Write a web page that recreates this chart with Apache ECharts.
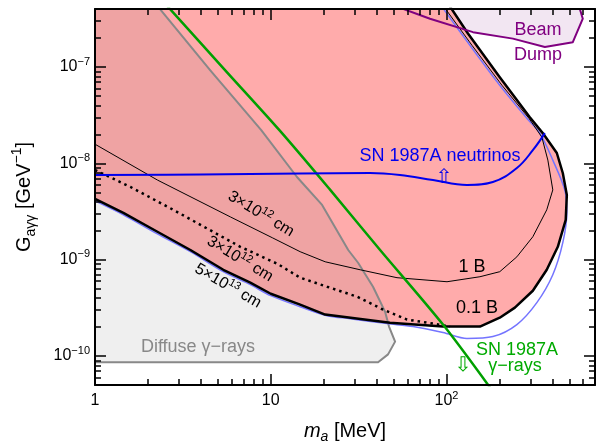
<!DOCTYPE html>
<html><head><meta charset="utf-8">
<script src="https://cdn.jsdelivr.net/npm/echarts@6/dist/echarts.min.js"></script>
<style>html,body{margin:0;padding:0;background:#fff}#c{width:600px;height:441px}</style>
</head><body><div id="c"></div>
<script>
// ---------- tick values ----------
const xMajor = [1, 10, 100];
const xMinor = [2,3,4,5,6,7,8,9,20,30,40,50,60,70,80,90,200,300,400,500,600];
const yMajor = [1e-10, 1e-9, 1e-8, 1e-7];
const yMinor = [6e-11,7e-11,8e-11,9e-11,2e-10,3e-10,4e-10,5e-10,6e-10,7e-10,8e-10,9e-10,
  2e-9,3e-9,4e-9,5e-9,6e-9,7e-9,8e-9,9e-9,2e-8,3e-8,4e-8,5e-8,6e-8,7e-8,8e-8,9e-8,2e-7,3e-7];

// ---------- SN1987A energy-loss region (outer boundary, thick black) ----------
const outerX = [102.5,132.5,201,298,353,424.5,459,484,477,430,372,310,245,201,155,95.5,47.7,20.4,14.7,10,7.65,5.37,3.49,2.265,1.45,1];
const outerY = [4.5e-7,2.23e-7,7.82e-8,3.01e-8,2.06e-8,1.28e-8,7.94e-9,4.70e-9,2.59e-9,1.36e-9,7.85e-10,4.76e-10,3.18e-10,2.50e-10,2.02e-10,2.02e-10,2.22e-10,2.69e-10,3.41e-10,4.43e-10,5.77e-10,7.85e-10,1.26e-9,1.95e-9,3.06e-9,4.27e-9];

// light blue contour
const lbX = [91.9,136,201,286.6,339.7,402.7,471,484,459,402.7,326.7,251.5,183.7,130.8,95.5,64.5,45.9,28.3,20.9,14.7,10,7.65,5.37,3.49,2.265,1.45,1];
const lbY = [4.5e-7,1.68e-7,6.47e-8,2.94e-8,2.06e-8,1.08e-8,5.30e-9,3.13e-9,1.50e-9,6.98e-10,3.58e-10,2.12e-10,1.59e-10,1.52e-10,1.75e-10,2.02e-10,2.17e-10,2.44e-10,2.62e-10,3.25e-10,4.23e-10,5.50e-10,7.50e-10,1.21e-9,1.85e-9,2.92e-9,4.07e-9];

// thin black contour (1 B / 3x10^12 cm)
const tbX = [1,2.265,5.89,10.2,14.7,20.4,32.3,52.3,100.7,155,201,251.5,310,372,402.7,377.4,348.9,294.3,206.7,139.6,94.3];
const tbY = [1.58e-8,6.71e-9,2.78e-9,1.69e-9,1.21e-9,9.51e-10,7.85e-10,6.50e-10,5.90e-10,6.65e-10,7.50e-10,1.07e-9,1.73e-9,3.29e-9,5.30e-9,1.08e-8,1.87e-8,2.94e-8,6.47e-8,1.68e-7,4.5e-7];

// dotted contour (3x10^12 cm)
const dtX = [1,1.59,2.79,3.98,6.71,10.9,14.7,20.9,31.0,43.6,59.7,83.8,104.7];
const dtY = [8.53e-9,5.69e-9,3.29e-9,2.30e-9,1.36e-9,9.07e-10,6.50e-10,5.24e-10,4.13e-10,3.03e-10,2.39e-10,2.17e-10,2.02e-10];

// SN 1987A neutrinos (blue)
const nuX = [1,3.98,14.7,36.7,54.4,83.8,130.8,183.7,251.5,310,362.9];
const nuY = [7.57e-9,7.66e-9,7.84e-9,7.94e-9,7.57e-9,6.71e-9,5.96e-9,6.40e-9,8.93e-9,1.37e-8,2.06e-8];

// SN 1987A gamma-rays (green)
const gamX = [2.52,5.51,11.2,21.8,41.9,95.5,180];
const gamY = [4.5e-7,9.24e-8,2.21e-8,5.30e-9,1.26e-9,2.12e-10,4.5e-11];

// Diffuse gamma-rays (gray region)
const difX = [0.95,2.22,4.53,8.83,14.1,19.6,27.6,31.4,38.2,44.7,47.1,51.0,46.5,40.8,0.95];
const difY = [4.5e-7,4.5e-7,9.24e-8,2.21e-8,7.21e-9,3.70e-9,1.26e-9,9.29e-10,5.24e-10,2.89e-10,2.02e-10,1.41e-10,1.04e-10,8.6e-11,8.6e-11];

// Beam dump (purple region)
const bdX = [47.7,80.6,141.5,238.7,362.9,523.5,596.6,563];
const bdY = [4.5e-7,3.17e-7,2.30e-7,1.97e-7,1.61e-7,1.81e-7,3.17e-7,4.5e-7];

const FONT = 'Liberation Sans, Arial, DejaVu Sans, sans-serif';
const zip = (xs, ys) => xs.map((x, i) => [x, ys[i]]);

function polygon(name, xs, ys, fill, stroke, lw, z) {
  return {
    type: 'custom', name, z, clip: true, silent: true,
    coordinateSystem: 'cartesian2d',
    data: zip(xs, ys),
    renderItem: function (params, api) {
      if (params.dataIndex !== 0) return null;
      const pts = xs.map((x, i) => api.coord([x, ys[i]]));
      return { type: 'polygon', shape: { points: pts },
        style: { fill: fill, stroke: stroke, lineWidth: lw, lineJoin: 'round' } };
    }
  };
}
function line(name, xs, ys, color, width, z, extra) {
  return Object.assign({
    type: 'line', name, z, data: zip(xs, ys), showSymbol: false, symbol: 'none',
    clip: true, silent: true,
    lineStyle: { color: color, width: width, join: 'round' }
  }, extra || {});
}

const labRich = {
  b: { fontSize: 16, lineHeight: 22, fontFamily: FONT, color: '#000' },
  s: { fontSize: 11, lineHeight: 11, verticalAlign: 'top', fontFamily: FONT, color: '#000' }
};
function xFmt(v) {
  const n = Math.round(Math.log10(v));
  if (n === 0) return '{b|1}';
  if (n === 1) return '{b|10}';
  return '{b|10}{s|' + n + '}';
}
function yFmt(v) {
  const n = Math.round(Math.log10(v));
  return '{b|10}{s|\u2212' + (-n) + '}';
}

const axLine = { show: true, onZero: false, lineStyle: { color: '#000', width: 2 } };
const tickStyle = { color: '#000', width: 1.5 };
function xAx(pos, vals, len, main) {
  return {
    type: 'log', logBase: 10, min: 1, max: 700, position: pos, z: 10,
    axisLine: main ? axLine : { show: false },
    axisTick: { show: true, inside: true, length: len, customValues: vals, lineStyle: tickStyle },
    axisLabel: (main && pos === 'bottom') ? { show: true, customValues: xMajor, formatter: xFmt, rich: labRich, margin: 5 } : { show: false },
    splitLine: { show: false },
    name: (main && pos === 'bottom') ? '{i|m}{sub|a} [MeV]' : '',
    nameLocation: 'middle', nameGap: 33,
    nameTextStyle: { fontSize: 20, fontFamily: FONT, color: '#000', lineHeight: 26,
      rich: { i: { fontSize: 20, fontStyle: 'italic', lineHeight: 26, fontFamily: FONT, color: '#000' },
              sub: { fontSize: 14, fontStyle: 'italic', lineHeight: 14, verticalAlign: 'bottom', fontFamily: FONT, color: '#000' } } }
  };
}
function yAx(pos, vals, len, main) {
  return {
    type: 'log', logBase: 10, min: 5e-11, max: 4e-7, position: pos, z: 10,
    axisLine: main ? axLine : { show: false },
    axisTick: { show: true, inside: true, length: len, customValues: vals, lineStyle: tickStyle },
    axisLabel: (main && pos === 'left') ? { show: true, customValues: yMajor, formatter: yFmt, rich: labRich, margin: 5 } : { show: false },
    splitLine: { show: false },
    name: (main && pos === 'left') ? 'G{sub|a\u03b3\u03b3} [GeV{sup|\u22121}]' : '',
    nameLocation: 'middle', nameGap: 57, nameRotate: 90,
    nameTextStyle: { fontSize: 20, fontFamily: FONT, color: '#000', lineHeight: 28,
      rich: { sub: { fontSize: 14, lineHeight: 14, verticalAlign: 'bottom', fontFamily: FONT, color: '#000' },
              sup: { fontSize: 14, lineHeight: 14, verticalAlign: 'top', fontFamily: FONT, color: '#000' } } }
  };
}

function txt(text, x, y, color, size, rot, rich) {
  return { type: 'text', x: x, y: y, rotation: rot || 0, z: 100, silent: true,
    style: { text: text, fill: color, fontSize: size, fontFamily: FONT, align: 'center', verticalAlign: 'middle', rich: rich } };
}
const cmRich = {
  n: { fontSize: 16, lineHeight: 20, fontFamily: FONT, fill: '#000' },
  p: { fontSize: 11, lineHeight: 11, verticalAlign: 'top', fontFamily: FONT, fill: '#000' }
};

const chart = echarts.init(document.getElementById('c'), null, { renderer: 'canvas' });
chart.setOption({
  animation: false,
  backgroundColor: '#fff',
  grid: { left: 95, right: 5, top: 9, bottom: 56, containLabel: false, outerBoundsMode: 'none' },
  xAxis: [xAx('bottom', xMajor, 11, true), xAx('bottom', xMinor, 6, false), xAx('top', xMajor, 11, true), xAx('top', xMinor, 6, false)],
  yAxis: [yAx('left', yMajor, 11, true), yAx('left', yMinor, 6, false), yAx('right', yMajor, 11, true), yAx('right', yMinor, 6, false)],
  series: [
    polygon('Beam Dump fill', bdX, bdY, '#f2e6f2', 'none', 0, 1),
    polygon('SN1987A energy loss', [0.95].concat(outerX, [0.95]), [4.5e-7].concat(outerY, [4.27e-9]), '#ffabab', 'none', 0, 2),
    polygon('Diffuse', difX, difY, 'rgba(100,100,100,0.1)', '#888888', 2, 3),
    line('light blue', lbX, lbY, '#7474ff', 1.5, 4, { smooth: 0.3 }),
    line('1 B', tbX, tbY, '#000', 1, 5),
    line('dotted', dtX, dtY, '#000', 2.5, 5, { lineStyle: { color: '#000', width: 2.5, type: [2.5, 4] } }),
    line('outer', outerX, outerY, '#000', 2.5, 6),
    line('gamma', gamX, gamY, '#00a000', 2.5, 7, { smooth: 0.3 }),
    line('neutrinos', nuX, nuY, '#0000ee', 2, 8, { smooth: 0.4 }),
    line('Beam Dump', bdX, bdY, '#800080', 2, 9)
  ],
  graphic: [
    txt('SN 1987A neutrinos', 440, 156, '#0000ee', 18),
    txt('\u21e7', 444, 177, '#0000ee', 20),
    txt('Beam', 538, 30, '#800080', 18),
    txt('Dump', 538, 55, '#800080', 18),
    txt('1 B', 472, 267, '#000', 18),
    txt('0.1 B', 477, 308, '#000', 18),
    txt('Diffuse \u03b3\u2212rays', 198, 347, '#888888', 18),
    txt('SN 1987A', 517, 350, '#00aa00', 18),
    txt('\u03b3\u2212rays', 515, 366, '#00aa00', 18),
    txt('\u21e9', 463, 365, '#00aa00', 20),
    txt('{n|3\u00d710}{p|12}{n| cm}', 261, 214, '#000', 16, -0.54, cmRich),
    txt('{n|3\u00d710}{p|12}{n| cm}', 240, 259, '#000', 16, -0.54, cmRich),
    txt('{n|5\u00d710}{p|13}{n| cm}', 228, 286, '#000', 16, -0.52, cmRich)
  ]
});
</script>
</body></html>
